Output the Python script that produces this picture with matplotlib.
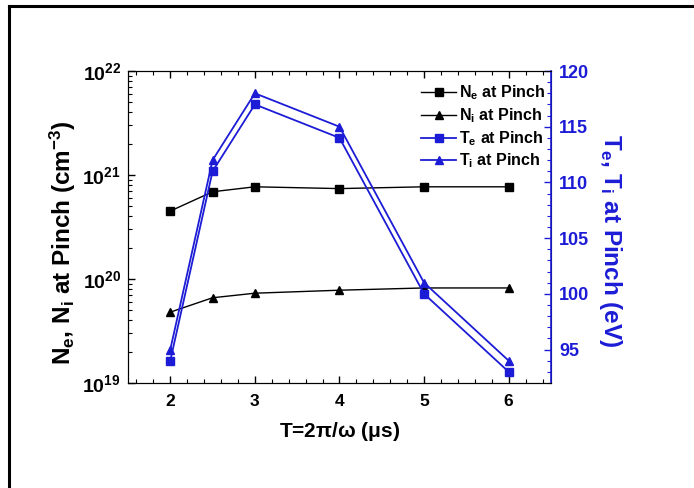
import numpy as np
import matplotlib.pyplot as plt
from matplotlib.lines import Line2D
from matplotlib.ticker import LogLocator, MultipleLocator, FixedLocator

plt.rcParams['font.family'] = ['Liberation Sans', 'DejaVu Sans']
plt.rcParams['font.weight'] = 'bold'
plt.rcParams['axes.labelweight'] = 'bold'
plt.rcParams['mathtext.fontset'] = 'custom'
plt.rcParams['mathtext.rm'] = 'Liberation Sans:bold'
plt.rcParams['mathtext.bf'] = 'Liberation Sans:bold'
plt.rcParams['mathtext.it'] = 'Liberation Sans:bold'
plt.rcParams['mathtext.default'] = 'bf'

# period T = 2*pi/omega in microseconds
period = [2, 2.5, 3, 4, 5, 6]
ne = [4.5e20, 6.9e20, 7.7e20, 7.4e20, 7.7e20, 7.7e20]
ni = [4.8e19, 6.6e19, 7.3e19, 7.8e19, 8.2e19, 8.2e19]
te = [94, 111, 117, 114, 100, 93]
ti = [95, 112, 118, 115, 101, 94]

blue = '#1c1cd6'

fig = plt.figure(figsize=(6.94, 4.88), dpi=100)
ax = fig.add_axes([0.1844, 0.2152, 0.6095, 0.6393])
ax2 = ax.twinx()

l1, = ax.plot(period, ne, color='black', lw=1.0, marker='s', ms=6, label=r'N$_e$ at Pinch')
l2, = ax.plot(period, ni, color='black', lw=1.0, marker='^', ms=5.5, label=r'N$_i$ at Pinch')
l3, = ax2.plot(period, te, color=blue, lw=1.3, marker='s', ms=6, label=r'T$_e$ at Pinch')
l4, = ax2.plot(period, ti, color=blue, lw=1.3, marker='^', ms=5.5, label=r'T$_i$ at Pinch')

ax.set_yscale('log')
ax.set_ylim(1e19, 1e22)
ax.set_xlim(1.5, 6.5)
ax2.set_ylim(92, 120)

ax.xaxis.set_major_locator(FixedLocator([2, 3, 4, 5, 6]))
ax.xaxis.set_minor_locator(MultipleLocator(0.2))
ax.yaxis.set_major_locator(LogLocator(base=10, numticks=10))
ax.yaxis.set_minor_locator(LogLocator(base=10, subs=np.arange(2, 10), numticks=20))
ax2.set_yticks([95, 100, 105, 110, 115, 120])
ax2.yaxis.set_minor_locator(MultipleLocator(1))

ax.tick_params(axis='x', which='both', direction='in', top=True, labelsize=12.5, pad=8)
ax.tick_params(axis='y', which='both', direction='in', right=False, labelsize=14, pad=5)
ax.tick_params(which='major', length=5, width=1)
ax.tick_params(which='minor', length=3, width=0.8)
ax2.tick_params(axis='y', which='both', direction='in', colors=blue, labelsize=13, pad=6)
ax2.tick_params(which='major', length=5, width=1)
ax2.tick_params(which='minor', length=3, width=0.8)
ax2.spines['right'].set_color(blue)
ax2.spines['right'].set_linewidth(1.2)

ax.set_xlabel(r'T=2$\pi$/$\omega$ ($\mu$s)', fontsize=15, labelpad=8)
ax.set_ylabel(r'N$_e$, N$_i$ at Pinch (cm$^{-3}$)', fontsize=17.5, labelpad=3)
ax2.set_ylabel(r'T$_e$, T$_i$ at Pinch (eV)', fontsize=17.5, color=blue,
               rotation=270, labelpad=25)
ax.yaxis.label.set_y(0.45)
ax2.yaxis.label.set_y(0.455)

ax2.legend(handles=[l1, l2, l3, l4], loc='upper right', bbox_to_anchor=(1.01, 0.99),
           frameon=False, fontsize=11.5, handlelength=2.2, handletextpad=0.2,
           labelspacing=0.25, borderaxespad=0.2)

# outer frame around the figure
fig.add_artist(Line2D([9 / 694, 9 / 694], [0, 1 - 6 / 488], color='black', lw=2.2,
                      transform=fig.transFigure))
fig.add_artist(Line2D([9 / 694, 1], [1 - 6 / 488, 1 - 6 / 488], color='black', lw=2.2,
                      transform=fig.transFigure))

fig.savefig('out.png', dpi=100)
